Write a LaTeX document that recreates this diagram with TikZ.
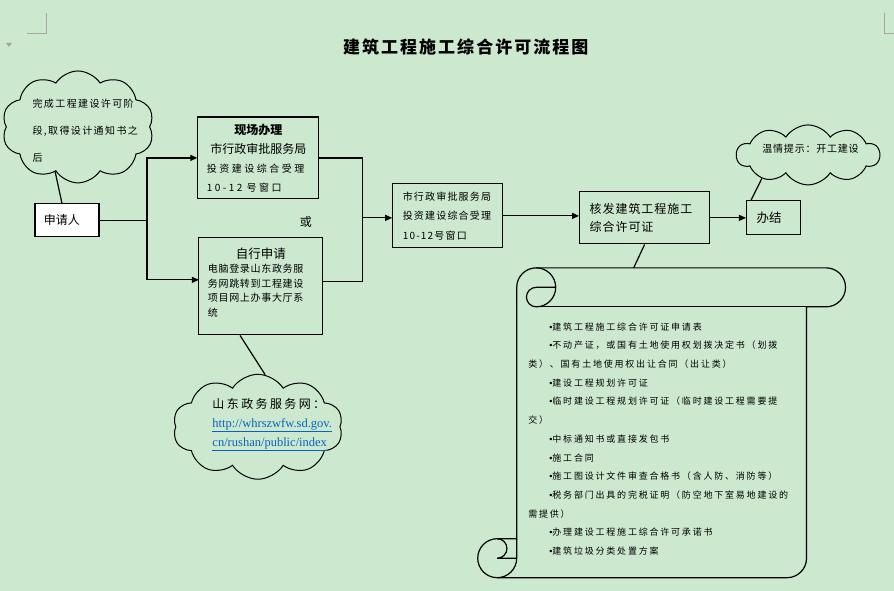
\documentclass[tikz,border=0pt]{standalone}
\usepackage{fontspec}
\setmainfont{Noto Sans CJK SC}
\newfontfamily\urlfont{Liberation Serif}
\newfontfamily\dotfont{Liberation Sans}
\usetikzlibrary{arrows.meta,shapes.symbols}
\definecolor{paper}{RGB}{204,232,207}
\definecolor{linkblue}{RGB}{5,99,193}
\definecolor{markgray}{RGB}{165,165,165}
\newcommand\sz[3]{\fontsize{#1}{#2}\selectfont\addfontfeature{LetterSpace=#3}}
\newcommand\bul{{\dotfont •}}
\begin{document}
\begin{tikzpicture}[x=1pt,y=-1pt,line width=1.2pt,
	box/.style={draw,rectangle,inner ysep=0pt,align=left},
	arr/.style={-{Triangle[length=7pt,width=6pt]}},
	puff/.style={draw,cloud,cloud puffs=10,cloud puff arc=115,line width=1pt,inner sep=0pt}]
	\fill[paper] (0,0) rectangle (894,591);
	% page corner marks
	\draw[markgray,line width=1pt] (27,34) -- (47,34) -- (47,13);
	\draw[markgray,line width=1pt] (885,13) -- (885,34) -- (894,34);
	\fill[markgray] (6,43) -- (12,43) -- (9,47) -- cycle;
	\node[font={\bfseries\sz{17}{20}{12}}] (title) at (466,47) {建筑工程施工综合许可流程图};
	% clouds
	\node[puff,minimum width=152pt,minimum height=112pt] (cloudL) at (78,127) {};
	\node[anchor=north west,align=left,inner sep=0pt,font=\sz{10}{27.5}{14}] (cloudLtext) at (32,98)
		{完成工程建设许可阶\\段,取得设计通知书之\\后};
	\node[puff,minimum width=143pt,minimum height=60pt] (cloudR) at (808.5,155) {};
	\node[font=\sz{10}{12}{8}] (tipText) at (811,149) {温情提示：开工建设};
	\node[puff,minimum width=170pt,minimum height=105pt] (cloudB) at (258,427) {};
	\node[anchor=north west,align=left,inner sep=0pt,font=\sz{12}{19}{20}] (webText) at (212,398)
		{山东政务服务网：\\{\urlfont\fontsize{12.5}{19}\selectfont\color{linkblue}\underline{http://whrszwfw.sd.gov.}}\\
		{\urlfont\fontsize{12.5}{19}\selectfont\color{linkblue}\underline{cn/rushan/public/index}}};
	% boxes
	\node[box,fill=white,minimum width=64pt,minimum height=33pt,text width=46pt,inner xsep=9pt,font=\sz{12}{14}{0}] (apply) at (67,220.5) {申请人};
	\node[box,minimum width=121pt,minimum height=82pt,text width=103pt,inner xsep=9pt,font=\sz{12}{19}{0}] (site) at (258.5,158)
		{{\centering\bfseries 现场办理\\ \mdseries 市行政审批服务局\par}\sz{10}{19}{25}投资建设综合受理\\10-12 号窗口};
	\node[font=\sz{12}{14}{0}] (orText) at (306,222) {或};
	\node[box,minimum width=124pt,minimum height=97pt,text width=106pt,inner xsep=9pt,font=\sz{10}{14.5}{7}] (self) at (261,286.5)
		{{\centering\sz{12.5}{15}{0}自行申请\par}电脑登录山东政务服\\务网跳转到工程建设\\项目网上办事大厅系\\统\\[-6pt]\mbox{}};
	\node[box,minimum width=110pt,minimum height=64pt,text width=90pt,inner xsep=10pt,font=\sz{10}{19.5}{12}] (mid) at (448,216)
		{市行政审批服务局\\投资建设综合受理\\10-12号窗口};
	\node[box,minimum width=130pt,minimum height=52pt,text width=110pt,inner xsep=10pt,font=\sz{12}{18}{8}] (issue) at (645,218)
		{核发建筑工程施工\\综合许可证};
	\node[box,minimum width=54pt,minimum height=34pt,text width=34pt,inner xsep=10pt,font=\sz{12.5}{14}{0}] (done) at (774,218) {办结};
	% scroll
	\draw (517,539) -- (517,287.5) arc[start angle=180,end angle=90,radius=19.5pt] -- (826.5,268)
		arc[start angle=90,end angle=-90,radius=19.5pt] -- (807,307) -- (807,558.5)
		arc[start angle=0,end angle=-90,radius=19.5pt] -- (497.5,578)
		arc[start angle=-90,end angle=-270,radius=19.5pt] -- cycle;
	\draw (536.5,268) arc[start angle=90,end angle=-90,radius=19.5pt]
		arc[start angle=-90,end angle=-270,radius=9.75pt] -- (556,287.5);
	\draw (807,307) -- (536.5,307);
	\draw (497.5,539) arc[start angle=90,end angle=-90,radius=9.75pt] -- (517,558.5);
	\draw (497.5,578) arc[start angle=-90,end angle=0,radius=19.5pt] -- (517,539);
	\coordinate (scrollTop) at (634,268);
	\foreach \dx/\txt [count=\i from 0] in {21/{\bul 建筑工程施工综合许可证申请表},
		21/{\bul 不动产证，或国有土地使用权划拨决定书（划拨},0/{类）、国有土地使用权出让合同（出让类）},
		21/{\bul 建设工程规划许可证},21/{\bul 临时建设工程规划许可证（临时建设工程需要提},0/{交）},
		21/{\bul 中标通知书或直接发包书},21/{\bul 施工合同},21/{\bul 施工图设计文件审查合格书（含人防、消防等）},
		21/{\bul 税务部门出具的完税证明（防空地下室易地建设的},0/{需提供）},
		21/{\bul 办理建设工程施工综合许可承诺书},21/{\bul 建筑垃圾分类处置方案}}
	{
		\node[anchor=west,inner sep=0pt,font=\sz{9}{11}{20}] (req\i) at (528+\dx,327+18.7*\i) {\txt};
	}
	% connectors
	\coordinate (forkL) at (147,220.5);
	\coordinate (selfIn) at (199,280);
	\coordinate (forkR) at (363,218);
	\coordinate (selfOut) at (323,282);
	\draw (apply.east) -- (forkL);
	\draw[arr] (forkL) |- (site.west);
	\draw[arr] (forkL) |- (selfIn);
	\draw (site.east) -| (forkR) |- (selfOut);
	\draw[arr] (forkR) -- (forkR -| mid.west);
	\draw[arr] (mid.east) -- (mid.east -| issue.west);
	\draw[arr] (issue.east) -- (done.west);
	\draw (issue.south) -- (scrollTop);
	\draw ([xshift=-5pt]apply.north) -- (cloudL.243);
	\draw ([xshift=5pt]done.north west) -- (cloudR.207);
	\draw (self.247) -- (cloudB.82);
\end{tikzpicture}
\end{document}
